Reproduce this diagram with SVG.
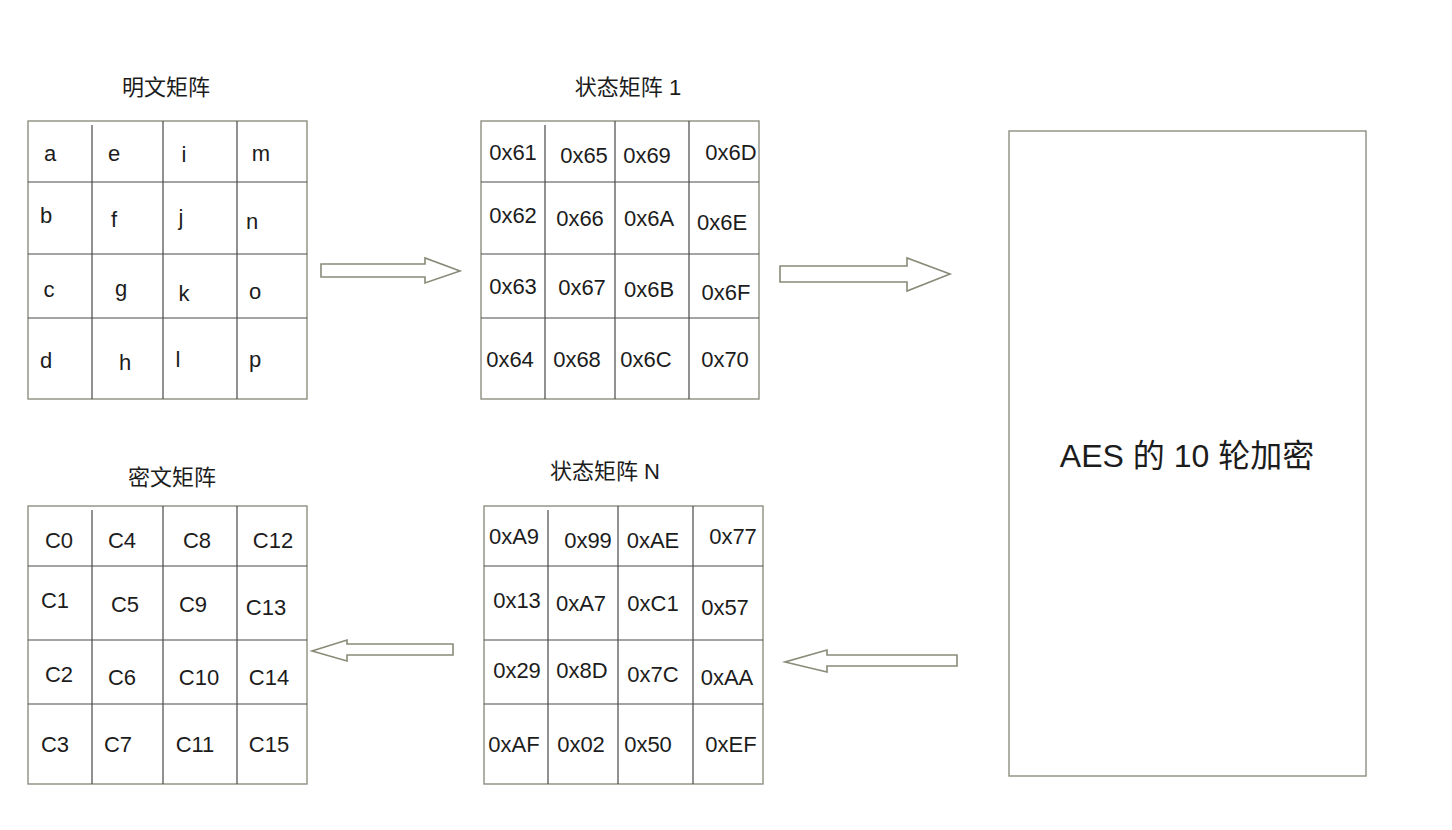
<svg xmlns="http://www.w3.org/2000/svg" width="1452" height="830" viewBox="0 0 1452 830">
<style>
.bg{fill:#ffffff}
.frame{fill:#ffffff;stroke:#8e8e80;stroke-width:1.4}
.div{stroke:#4a4a4a;stroke-width:1.2;fill:none}
.arr{fill:#ffffff;stroke:#8a8a78;stroke-width:1.6;stroke-linejoin:miter}
text{font-family:"Liberation Sans","Noto Sans CJK SC",sans-serif;fill:#1c1c1c}
.t{font-size:22px;text-anchor:middle}
.c{font-size:22px;text-anchor:middle}
.big{font-size:32px;text-anchor:middle}
</style>
<rect class="bg" x="0" y="0" width="1452" height="830"/>

<g id="plain-matrix">
<text class="t" x="166" y="95">明文矩阵</text>
<rect class="frame" x="28" y="121" width="279" height="278"/>
<path class="div" d="M92 125V399M163 121V399M237 121V399M28 182H307M28 254H307M28 318H307"/>
<text class="c" x="50" y="161">a</text>
<text class="c" x="114" y="161">e</text>
<text class="c" x="184" y="162">i</text>
<text class="c" x="261" y="161">m</text>
<text class="c" x="46" y="223">b</text>
<text class="c" x="114" y="227">f</text>
<text class="c" x="181" y="225">j</text>
<text class="c" x="252" y="229">n</text>
<text class="c" x="49" y="297">c</text>
<text class="c" x="121" y="296">g</text>
<text class="c" x="184" y="301">k</text>
<text class="c" x="255" y="299">o</text>
<text class="c" x="46" y="368">d</text>
<text class="c" x="125" y="370">h</text>
<text class="c" x="178" y="367">l</text>
<text class="c" x="255" y="367">p</text>
</g>

<g id="state-matrix-1">
<text class="t" x="628" y="95">状态矩阵 1</text>
<rect class="frame" x="481" y="121" width="278" height="278"/>
<path class="div" d="M545 125V399M615 121V399M689 121V399M481 182H759M481 254H759M481 318H759"/>
<text class="c" x="513" y="160">0x61</text>
<text class="c" x="584" y="163">0x65</text>
<text class="c" x="647" y="163">0x69</text>
<text class="c" x="731" y="160">0x6D</text>
<text class="c" x="513" y="223">0x62</text>
<text class="c" x="580" y="226">0x66</text>
<text class="c" x="649" y="226">0x6A</text>
<text class="c" x="722" y="230">0x6E</text>
<text class="c" x="513" y="294">0x63</text>
<text class="c" x="582" y="295">0x67</text>
<text class="c" x="649" y="297">0x6B</text>
<text class="c" x="726" y="300">0x6F</text>
<text class="c" x="510" y="367">0x64</text>
<text class="c" x="577" y="367">0x68</text>
<text class="c" x="646" y="367">0x6C</text>
<text class="c" x="725" y="367">0x70</text>
</g>

<g id="aes-rounds">
<rect class="frame" x="1009" y="131" width="357" height="645"/>
<text class="big" x="1187" y="467">AES 的 10 轮加密</text>
</g>

<g id="state-matrix-n">
<text class="t" x="605" y="479">状态矩阵 N</text>
<rect class="frame" x="484" y="506" width="279" height="278"/>
<path class="div" d="M548 510V784M618 506V784M693 506V784M484 566H763M484 640H763M484 704H763"/>
<text class="c" x="514" y="544">0xA9</text>
<text class="c" x="588" y="548">0x99</text>
<text class="c" x="653" y="548">0xAE</text>
<text class="c" x="733" y="544">0x77</text>
<text class="c" x="517" y="608">0x13</text>
<text class="c" x="581" y="611">0xA7</text>
<text class="c" x="653" y="611">0xC1</text>
<text class="c" x="725" y="615">0x57</text>
<text class="c" x="517" y="678">0x29</text>
<text class="c" x="582" y="678">0x8D</text>
<text class="c" x="653" y="682">0x7C</text>
<text class="c" x="727" y="685">0xAA</text>
<text class="c" x="514" y="752">0xAF</text>
<text class="c" x="581" y="752">0x02</text>
<text class="c" x="648" y="752">0x50</text>
<text class="c" x="731" y="752">0xEF</text>
</g>

<g id="cipher-matrix">
<text class="t" x="172" y="485">密文矩阵</text>
<rect class="frame" x="28" y="506" width="279" height="278"/>
<path class="div" d="M92 510V784M163 506V784M237 506V784M28 566H307M28 640H307M28 704H307"/>
<text class="c" x="59" y="548">C0</text>
<text class="c" x="122" y="548">C4</text>
<text class="c" x="197" y="548">C8</text>
<text class="c" x="273" y="548">C12</text>
<text class="c" x="55" y="608">C1</text>
<text class="c" x="125" y="612">C5</text>
<text class="c" x="193" y="612">C9</text>
<text class="c" x="266" y="615">C13</text>
<text class="c" x="59" y="682">C2</text>
<text class="c" x="122" y="685">C6</text>
<text class="c" x="199" y="685">C10</text>
<text class="c" x="269" y="685">C14</text>
<text class="c" x="55" y="752">C3</text>
<text class="c" x="118" y="752">C7</text>
<text class="c" x="195" y="752">C11</text>
<text class="c" x="269" y="752">C15</text>
</g>

<g id="connectors">
<path class="arr" d="M321 264H425V258L460 271L425 283V277H321Z"/>
<path class="arr" d="M780 266H907V258L950 274L907 291V282H780Z"/>
<path class="arr" d="M957 655H827V650L785 662L827 672V666H957Z"/>
<path class="arr" d="M453 644H347V640L312 651L347 661V655H453Z"/>
</g>
</svg>
